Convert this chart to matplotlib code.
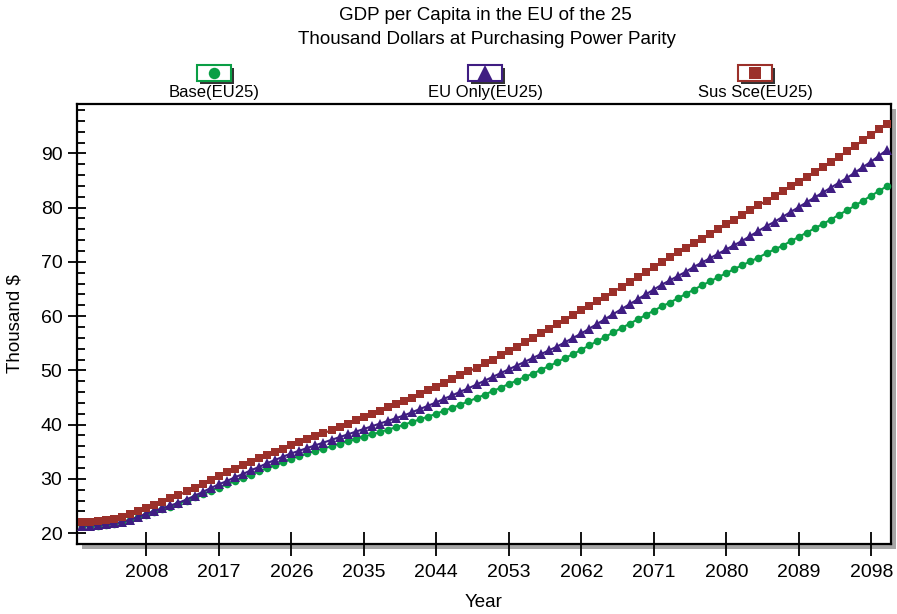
"""
GDP per Capita in the EU of the 25 - scenario comparison chart.
"""

import matplotlib
matplotlib.use("Agg")
import matplotlib.pyplot as plt
import matplotlib.patches as mpatches
from matplotlib.lines import Line2D
import numpy as np

# ── Data ────────────────────────────────────────────────────────────────
years = np.arange(2000, 2101)

base_eu25 = [
    21.3, 21.3, 21.4, 21.5, 21.7, 22.0, 22.4, 22.9, 23.4, 23.9,
    24.4, 24.9, 25.4, 26.0, 26.6, 27.2, 27.8, 28.4, 29.0, 29.6,
    30.2, 30.8, 31.4, 32.0, 32.6, 33.2, 33.7, 34.2, 34.7, 35.2,
    35.6, 36.0, 36.5, 36.9, 37.3, 37.8, 38.2, 38.6, 39.1, 39.5,
    40.0, 40.5, 41.0, 41.5, 42.0, 42.6, 43.1, 43.7, 44.3, 44.9,
    45.5, 46.2, 46.8, 47.5, 48.1, 48.8, 49.4, 50.1, 50.8, 51.5,
    52.3, 53.0, 53.8, 54.6, 55.4, 56.2, 57.0, 57.8, 58.6, 59.4,
    60.2, 61.0, 61.8, 62.5, 63.3, 64.1, 64.9, 65.7, 66.4, 67.2,
    67.9, 68.7, 69.4, 70.1, 70.8, 71.6, 72.3, 73.0, 73.8, 74.6,
    75.4, 76.2, 77.0, 77.8, 78.7, 79.5, 80.4, 81.3, 82.2, 83.1,
    84.0,
]

eu_only_eu25 = [
    21.4, 21.4, 21.5, 21.6, 21.8, 22.1, 22.5, 23.0, 23.6, 24.1,
    24.6, 25.1, 25.6, 26.2, 26.9, 27.6, 28.3, 29.0, 29.6, 30.3,
    30.9, 31.6, 32.2, 32.9, 33.5, 34.1, 34.7, 35.2, 35.7, 36.2,
    36.7, 37.2, 37.7, 38.2, 38.7, 39.2, 39.7, 40.2, 40.7, 41.2,
    41.7, 42.3, 42.9, 43.5, 44.1, 44.8, 45.4, 46.1, 46.7, 47.4,
    48.1, 48.8, 49.5, 50.2, 50.9, 51.6, 52.3, 53.0, 53.7, 54.4,
    55.2, 56.0, 56.8, 57.7, 58.6, 59.5, 60.4, 61.3, 62.2, 63.1,
    64.0, 64.9, 65.8, 66.6, 67.4, 68.2, 69.1, 69.9, 70.7, 71.5,
    72.3, 73.1, 73.9, 74.8, 75.7, 76.6, 77.4, 78.3, 79.2, 80.1,
    81.0, 81.9, 82.8, 83.7, 84.6, 85.5, 86.5, 87.5, 88.5, 89.6,
    90.7,
]

sus_sce_eu25 = [
    22.0, 22.1, 22.2, 22.4, 22.6, 23.0, 23.5, 24.0, 24.6, 25.2,
    25.8, 26.4, 27.0, 27.7, 28.4, 29.1, 29.8, 30.5, 31.2, 31.8,
    32.5, 33.1, 33.8, 34.4, 35.0, 35.6, 36.2, 36.8, 37.3, 37.9,
    38.4, 39.0, 39.6, 40.2, 40.8, 41.4, 42.0, 42.6, 43.2, 43.8,
    44.4, 45.0, 45.6, 46.3, 47.0, 47.7, 48.4, 49.1, 49.8, 50.5,
    51.3, 52.0, 52.8, 53.6, 54.4, 55.2, 56.0, 56.8, 57.6, 58.5,
    59.3, 60.2, 61.1, 61.9, 62.7, 63.6, 64.5, 65.4, 66.3, 67.2,
    68.1, 69.0, 70.0, 70.9, 71.8, 72.6, 73.5, 74.3, 75.2, 76.0,
    76.9, 77.7, 78.6, 79.5, 80.4, 81.3, 82.1, 83.0, 83.9, 84.8,
    85.7, 86.6, 87.5, 88.5, 89.4, 90.4, 91.4, 92.4, 93.4, 94.5,
    95.5,
]

series_labels = ["Base(EU25)", "EU Only(EU25)", "Sus Sce(EU25)"]
x_ticks = list(range(2008, 2099, 9))
y_ticks = list(range(20, 91, 10))

# ── Style ───────────────────────────────────────────────────────────────
GREEN = "#0a9e45"
PURPLE = "#3f1d82"
RED = "#9b302a"
SHADOW = "#a6a6a6"

plt.rcParams.update({
    "font.family": ["Liberation Sans", "DejaVu Sans"],
    "font.size": 14,
})

W, H = 897, 614
fig = plt.figure(figsize=(W / 100, H / 100), dpi=100)


def fx(px):
    return px / W


def fy(py):
    return 1 - py / H


# plot frame in pixels
L, R, T, B = 77, 891, 104, 544

# drop shadow behind plot area
fig.add_artist(mpatches.Rectangle((fx(L + 5), fy(B + 5)), fx(R - L), (B - T) / H,
                                  transform=fig.transFigure, facecolor=SHADOW,
                                  edgecolor="none", zorder=0))

ax = fig.add_axes([fx(L), fy(B), fx(R - L), (B - T) / H], zorder=1)
ax.set_facecolor("white")

styles = [
    (base_eu25, GREEN, "o", 5.5),
    (eu_only_eu25, PURPLE, "^", 7.5),
    (sus_sce_eu25, RED, "s", 6.0),
]
for (vals, col, mk, ms), lab in zip(styles, series_labels):
    ax.plot(years, vals, color=col, linewidth=1.5, marker=mk, markersize=ms,
            markeredgewidth=0, label=lab, clip_on=False, zorder=3)

ax.set_xlim(1999.4, 2100.45)
ax.set_ylim(18.0, 99.1)
ax.set_xticks(x_ticks)
ax.set_yticks(y_ticks)
ax.set_yticks(np.arange(18, 99, 2), minor=True)
ax.tick_params(axis="x", which="major", direction="inout", length=17, width=1.3, pad=6)
ax.tick_params(axis="y", which="major", direction="inout", length=13, width=1.3, pad=4)
ax.tick_params(axis="y", which="minor", direction="in", length=6, width=1.3)
for s in ax.spines.values():
    s.set_linewidth(1.6)

ax.set_xlabel("Year", labelpad=9, fontsize=13.5)
ax.set_ylabel("Thousand $", labelpad=12, fontsize=13.5)

# ── Titles ──────────────────────────────────────────────────────────────
fig.text(fx(485), fy(16), "GDP per Capita in the EU of the 25", ha="center", va="center", fontsize=13.5)
fig.text(fx(487), fy(40), "Thousand Dollars at Purchasing Power Parity", ha="center", va="center", fontsize=13.5)

# ── Legend (boxes with markers above labels) ────────────────────────────
legend_x = [214, 485, 755]
bw, bh = 34, 16
for (vals, col, mk, ms), lab, cx in zip(styles, series_labels, legend_x):
    x0, y0 = cx - bw / 2, 65
    # shadow
    fig.add_artist(mpatches.Rectangle((fx(x0 + 3), fy(y0 + bh + 3)), bw / W, bh / H,
                                      transform=fig.transFigure, facecolor="#333333",
                                      edgecolor="none", zorder=2))
    fig.add_artist(mpatches.Rectangle((fx(x0), fy(y0 + bh)), bw / W, bh / H,
                                      transform=fig.transFigure, facecolor="white",
                                      edgecolor=col, linewidth=1.5, zorder=3))
    fig.add_artist(Line2D([fx(cx)], [fy(y0 + bh / 2)], transform=fig.transFigure,
                          marker=mk, color=col, markersize=ms * 1.5, markeredgewidth=0,
                          linestyle="none", zorder=4))
    fig.text(fx(cx), fy(92), lab, ha="center", va="center", fontsize=12)

fig.savefig("out.png", dpi=100)
